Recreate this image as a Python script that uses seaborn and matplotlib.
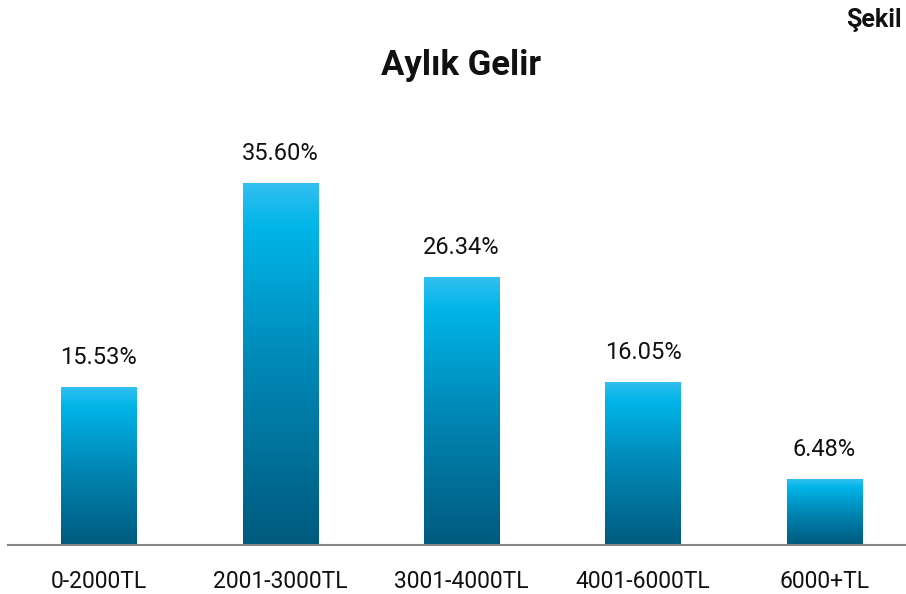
import numpy as np
import pandas as pd
import matplotlib.pyplot as plt
import seaborn as sns
from matplotlib.colors import LinearSegmentedColormap

categories = ['0-2000TL', '2001-3000TL', '3001-4000TL', '4001-6000TL', '6000+TL']
values = [15.53, 35.60, 26.34, 16.05, 6.48]
labels = ['15.53%', '35.60%', '26.34%', '16.05%', '6.48%']

sns.set_style('white')
plt.rcParams['font.family'] = ['Roboto', 'DejaVu Sans']

df = pd.DataFrame({'cat': categories, 'val': values})

fig = plt.figure(figsize=(9.06, 5.94), dpi=100)
ax = fig.add_axes([8 / 906, 49 / 594, 898 / 906, 425 / 594])

sns.barplot(data=df, x='cat', y='val', ax=ax, width=0.414, color='#0090bf',
            saturation=1, errorbar=None)

# vertical gradient, light on top, dark at the bottom, per bar
cmap = LinearSegmentedColormap.from_list(
    'bar', [(0, '#005a7e'), (0.5, '#0088b6'), (0.88, '#00b5e8'), (1.0, '#33bff0')])
grad = np.linspace(0, 1, 256).reshape(-1, 1)
for p in ax.patches:
    x0, y0 = p.get_x(), p.get_y()
    w, h = p.get_width(), p.get_height()
    im = ax.imshow(grad, extent=[x0, x0 + w, y0, y0 + h], origin='lower',
                   cmap=cmap, aspect='auto', zorder=2)
    im.set_clip_path(p)
    p.set_facecolor('none')
    p.set_edgecolor('none')

for i, (v, lab) in enumerate(zip(values, labels)):
    ax.text(i, v + 1.8, lab, ha='center', va='bottom', fontsize=17, color='#111111')

ax.set_xlim(-0.5, 4.45)
ax.set_ylim(0, 41.8)
ax.set_xlabel('')
ax.set_ylabel('')
ax.set_yticks([])
ax.tick_params(axis='x', length=0, labelsize=16.5, pad=18, colors='#111111')
for s in ['top', 'right', 'left']:
    ax.spines[s].set_visible(False)
ax.spines['bottom'].set_color('#888888')
ax.spines['bottom'].set_linewidth(1.5)

fig.text(461 / 906, 1 - 66 / 594, 'Aylık Gelir', ha='center', va='center',
         fontsize=25, fontweight='bold', color='#111111')
fig.text(902 / 906, 1 - 20 / 594, 'Şekil', ha='right', va='center',
         fontsize=18, fontweight='bold', color='#111111')

fig.savefig('out.png', dpi=100)
